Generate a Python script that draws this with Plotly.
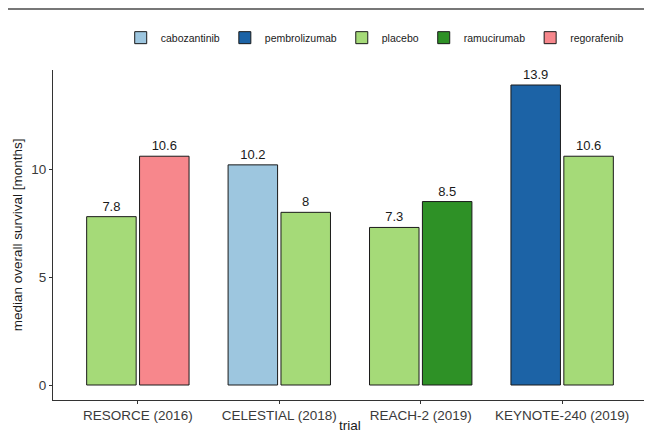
import plotly.graph_objects as go

trials = ["RESORCE (2016)", "CELESTIAL (2018)", "REACH-2 (2019)", "KEYNOTE-240 (2019)"]
drugs = ["cabozantinib", "pembrolizumab", "placebo", "ramucirumab", "regorafenib"]
colors = ["#9DC6DF", "#1C63A6", "#A5DA78", "#2E9126", "#F7878C"]

# per drug: trials, values, slot within group (0 = left, 1 = right)
cabo_trials = ["CELESTIAL (2018)"]
cabo_vals = [10.2]
cabo_slot = [0]
pembro_trials = ["KEYNOTE-240 (2019)"]
pembro_vals = [13.9]
pembro_slot = [0]
placebo_trials = ["RESORCE (2016)", "CELESTIAL (2018)", "REACH-2 (2019)", "KEYNOTE-240 (2019)"]
placebo_vals = [7.8, 8, 7.3, 10.6]
placebo_slot = [0, 1, 0, 1]
ramu_trials = ["REACH-2 (2019)"]
ramu_vals = [8.5]
ramu_slot = [1]
rego_trials = ["RESORCE (2016)"]
rego_vals = [10.6]
rego_slot = [1]

series = [
    (cabo_trials, cabo_vals, cabo_slot),
    (pembro_trials, pembro_vals, pembro_slot),
    (placebo_trials, placebo_vals, placebo_slot),
    (ramu_trials, ramu_vals, ramu_slot),
    (rego_trials, rego_vals, rego_slot),
]

BAR_W = 0.35
OFFS = [-0.362, 0.012]

fig = go.Figure()
for name, col, (tx, vals, slots) in zip(drugs, colors, series):
    fig.add_trace(go.Bar(
        x=tx, y=vals, name=name,
        width=[BAR_W] * len(vals),
        offset=[OFFS[s] for s in slots],
        marker=dict(color=col, line=dict(color="#1a1a1a", width=1)),
        text=[str(v) for v in vals], textposition="outside",
        textfont=dict(size=13, color="#1a1a1a"),
        cliponaxis=False,
    ))

axis_common = dict(
    showline=True, linecolor="#333333", linewidth=1.2,
    ticks="outside", ticklen=3, tickcolor="#333333",
    tickfont=dict(size=13.5, color="#3a3a3a"),
    showgrid=False, zeroline=False,
)

# page body adds an 8px offset, so the figure is 8px smaller on each axis
fig.update_layout(
    width=644, height=426,
    margin=dict(l=45, r=5, t=62, b=34, autoexpand=False),
    paper_bgcolor="white", plot_bgcolor="white",
    font=dict(family="Liberation Sans, Arial, sans-serif", color="#1a1a1a"),
    barmode="overlay",
    showlegend=True,
    legend=dict(orientation="h", x=0.114, xanchor="left", y=1.098, yanchor="middle",
                font=dict(size=10.5, color="#1a1a1a"), traceorder="normal",
                itemwidth=30, tracegroupgap=0),
    xaxis=dict(axis_common, type="category", categoryorder="array", categoryarray=trials,
               range=[-0.6, 3.6]),
    yaxis=dict(axis_common, range=[-0.695, 14.595], tickvals=[0, 5, 10]),
    annotations=[
        dict(text="trial", xref="paper", yref="paper", x=0.5, y=-0.0758,
             xanchor="center", yanchor="middle", showarrow=False,
             font=dict(size=13.5, color="#1a1a1a")),
        dict(text="median overall survival [months]", xref="paper", yref="paper",
             x=-0.06, y=0.5, xanchor="center", yanchor="middle", textangle=-90,
             showarrow=False, font=dict(size=13.5, color="#1a1a1a")),
    ],
    shapes=[dict(type="line", xref="paper", yref="paper",
                 x0=-0.0758, x1=1.01, y0=1.185, y1=1.185,
                 line=dict(color="#777777", width=2))],
)

fig.write_html("out.html")
